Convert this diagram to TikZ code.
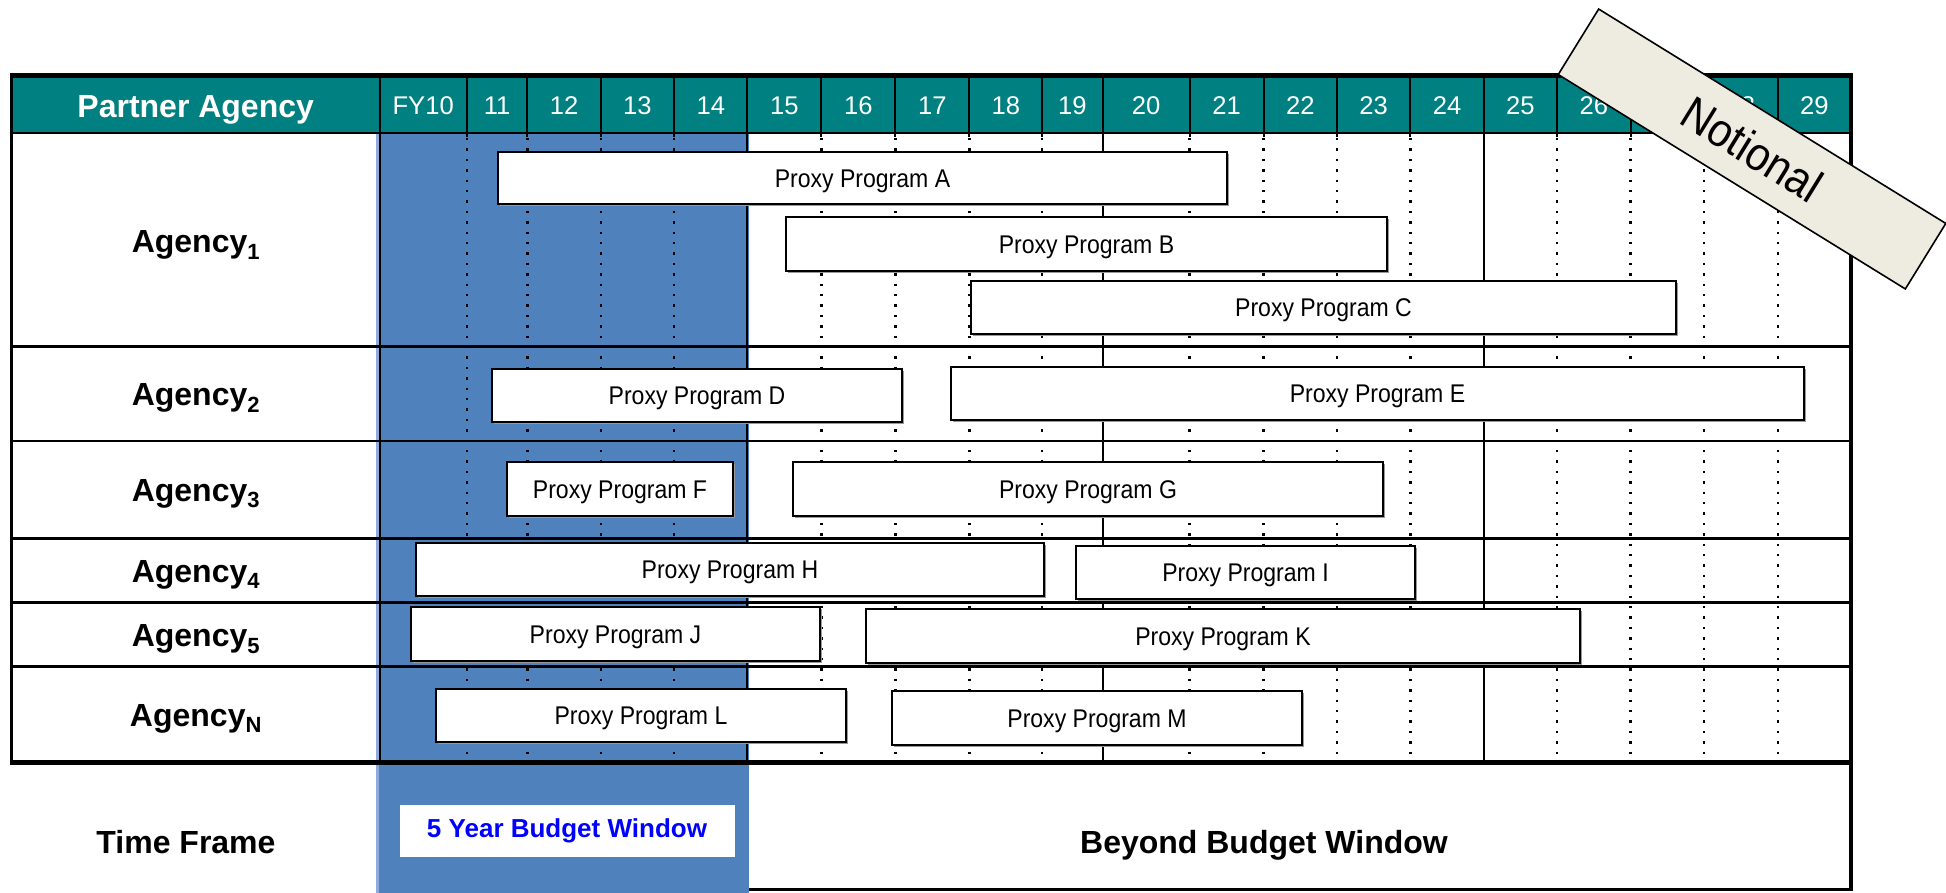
\documentclass[tikz,border=0pt]{standalone}
\usepackage{fontspec}
\setmainfont{Liberation Sans}
\newfontfamily\narrowsans[FakeStretch=0.9]{Liberation Sans}
\usetikzlibrary{shadows}
\definecolor{hdrteal}{HTML}{008080}
\definecolor{winblue}{HTML}{4F81BD}
\definecolor{winedge}{HTML}{8FAADC}
\definecolor{tagtan}{HTML}{EEECE1}
\definecolor{txtblue}{HTML}{0000FF}
\newcommand{\agsub}[1]{\raisebox{-6.6pt}{\fontsize{22}{22}\selectfont #1}}
\newcommand{\progbar}[6]{\node[progbox, minimum width=#4pt, minimum height=#5pt] (#1) at (#2,#3) {#6};}

\begin{document}
\begin{tikzpicture}[x=1pt, y=-1pt,
  progbox/.style={draw=black, line width=1.8pt, fill=white, inner sep=0pt,
    text height=18.3pt, text depth=0pt,
    font=\narrowsans\fontsize{25.6}{30}\selectfont,
    drop shadow={shadow xshift=1.6pt, shadow yshift=-1.6pt, fill=black!40, opacity=1}},
  hdr/.style={text=white, inner sep=0pt, font=\fontsize{25.6}{30}\selectfont},
  lbl/.style={inner sep=0pt, anchor=base, font=\bfseries\fontsize{32}{38}\selectfont},
  dotline/.style={line width=2.4pt, dash pattern=on 2.4pt off 8pt},
  gridline/.style={line width=2pt},
  rowline/.style={line width=2.6pt}
]
\useasboundingbox (0,0) rectangle (1946,893);

% budget window band and the white "beyond" panel
\fill[winblue] (378.5,133) rectangle (749,893);
\fill[winedge] (375.5,133) rectangle (379,893);
\fill[white] (749,764) rectangle (1851,889);

% dotted year boundaries in the body
\foreach \x in {466.8,527.4,600.8,674.1,821.4,895.4,969.4,1042.1,1189.5,1263.6,1337,1410.3,1557.1,1630.5,1703.9,1777.9}
  \draw[dotline] (\x,138) -- (\x,760);
% solid boundaries in the body
\foreach \x in {380,747.4,1102.8,1483.7}
  \draw[gridline] (\x,133) -- (\x,762);

% row separators
\foreach \y in {346.7,441,538.3,602.7,666.7}
  \draw[rowline] (12,\y) -- (1851,\y);

% header band
\fill[hdrteal] (12,78) rectangle (1851,133);
\draw[rowline] (12,133) -- (1851,133);
\foreach \x in {380,466.8,527.4,600.8,674.1,747.4,821.4,895.4,969.4,1042.1,1102.8,1189.5,1263.6,1337,1410.3,1483.7,1557.1,1630.5,1703.9,1777.9}
  \draw[gridline] (\x,78) -- (\x,137);
\node[hdr, font=\bfseries\fontsize{32}{38}\selectfont, anchor=base] (pa) at (195.7,117.3) {Partner Agency};
\foreach \l/\r/\t in {379.5/466.8/FY10, 466.8/527.4/11, 527.4/600.8/12, 600.8/674.1/13, 674.1/747.4/14,
  747.4/821.4/15, 821.4/895.4/16, 895.4/969.4/17, 969.4/1042.1/18, 1042.1/1102.8/19,
  1102.8/1189.5/20, 1189.5/1263.6/21, 1263.6/1337/22, 1337/1410.3/23, 1410.3/1483.7/24,
  1483.7/1557.1/25, 1557.1/1630.5/26, 1630.5/1703.9/27, 1703.9/1777.9/28, 1777.9/1850.6/29}
  \node[hdr] (y\t) at ({(\l+\r)/2},105.5) {\t};

% agency labels
\node[lbl] (ag1) at (195.7,252.7) {Agency\agsub{1}};
\node[lbl] (ag2) at (195.7,405.5) {Agency\agsub{2}};
\node[lbl] (ag3) at (195.7,501) {Agency\agsub{3}};
\node[lbl] (ag4) at (195.7,582) {Agency\agsub{4}};
\node[lbl] (ag5) at (195.7,646.5) {Agency\agsub{5}};
\node[lbl] (agN) at (195.7,726) {Agency\agsub{N}};

% programs
\progbar{pA}{862.5}{178}{729}{52}{Proxy Program A}
\progbar{pB}{1086.5}{244}{601}{54}{Proxy Program B}
\progbar{pC}{1323.5}{307.5}{705}{53}{Proxy Program C}
\progbar{pD}{697}{395.5}{410}{53}{Proxy Program D}
\progbar{pE}{1377.5}{393.5}{853}{53}{Proxy Program E}
\progbar{pF}{620}{489}{226}{54}{Proxy Program F}
\progbar{pG}{1088}{489}{590}{54}{Proxy Program G}
\progbar{pH}{730}{569.5}{628}{53}{Proxy Program H}
\progbar{pI}{1245.5}{572.5}{339}{53}{Proxy Program I}
\progbar{pJ}{615.5}{634}{409}{54}{Proxy Program J}
\progbar{pK}{1223}{636}{714}{54}{Proxy Program K}
\progbar{pL}{641}{715.5}{410}{53}{Proxy Program L}
\progbar{pM}{1097}{718}{410}{54}{Proxy Program M}

% outer frame
\draw[line width=5pt] (10,75.8) -- (1853,75.8);
\draw[line width=3.5pt] (11.5,73) -- (11.5,765);
\draw[line width=4pt] (1851,73) -- (1851,891);
\draw[line width=5pt] (10,762.5) -- (1853,762.5);
\draw[line width=3pt] (749,889.5) -- (1853,889.5);

% time frame row
\node[lbl] (tf) at (186,853) {Time Frame};
\node[fill=white, minimum width=335pt, minimum height=52pt, inner sep=0pt,
  text=txtblue, font=\bfseries\fontsize{26}{30}\selectfont] (fyw) at (567,831) {5 Year Budget Window};
\node[lbl] (bbw) at (1264,853) {Beyond Budget Window};

% notional tag
\node[draw=black, line width=1.6pt, fill=tagtan, minimum width=408pt, minimum height=77pt,
  inner sep=0pt, rotate=-31.7, font=\narrowsans\fontsize{47}{52}\selectfont] (tag) at (1752,149) {Notional};
\end{tikzpicture}
\end{document}
